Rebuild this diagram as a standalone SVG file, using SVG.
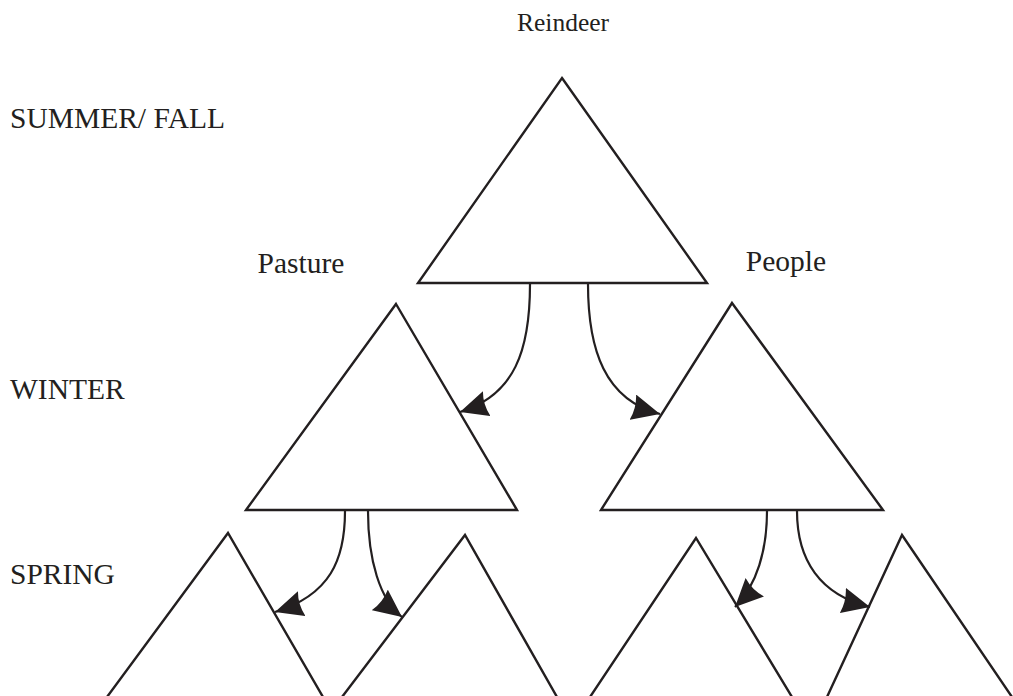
<svg xmlns="http://www.w3.org/2000/svg" width="1013" height="696" viewBox="0 0 1013 696">
<style>
.tri{fill:none;stroke:#231f20;stroke-width:2.4;stroke-linejoin:miter}
.con{fill:none;stroke:#231f20;stroke-width:2.2}
.lbl{font-family:"Liberation Serif","Times New Roman",serif;font-size:29.5px;fill:#231f20}
.top{font-size:25.5px}
</style>
<defs>
<marker id="ah" viewBox="0 0 28 26" refX="28" refY="13" markerWidth="28" markerHeight="26" markerUnits="userSpaceOnUse" orient="auto">
<path d="M0,0 L28,13 L0,26 Q4,13 0,0 Z" fill="#231f20"/>
</marker>
</defs>
<rect width="1013" height="696" fill="#fff"/>
<g id="labels">
<text class="lbl top" x="563" y="31" text-anchor="middle">Reindeer</text>
<text class="lbl" x="10" y="128">SUMMER/ FALL</text>
<text class="lbl" x="301" y="273" text-anchor="middle">Pasture</text>
<text class="lbl" x="786" y="271" text-anchor="middle">People</text>
<text class="lbl" x="10" y="399">WINTER</text>
<text class="lbl" x="10" y="584">SPRING</text>
</g>
<g id="reindeer"><polygon class="tri" points="562,78 707,283 418,283"/></g>
<g id="pasture"><polygon class="tri" points="396,304 517,510 246,510"/></g>
<g id="people"><polygon class="tri" points="732,303 883,510 601,510"/></g>
<g id="spring1"><polyline class="tri" points="107,697 228,533 323,697"/></g>
<g id="spring2"><polyline class="tri" points="342,697 465,535 557,697"/></g>
<g id="spring3"><polyline class="tri" points="590,697 696,538 792,697"/></g>
<g id="spring4"><polyline class="tri" points="827,697 902,535 1012,697"/></g>
<g id="connectors">
<path class="con" marker-end="url(#ah)" d="M530,284 C530,350 515,395 460,412"/>
<path class="con" marker-end="url(#ah)" d="M588,284 C588,350 605,400 660,414"/>
<path class="con" marker-end="url(#ah)" d="M345,511 C345,560 330,595 275,612"/>
<path class="con" marker-end="url(#ah)" d="M368,511 C368,560 380,600 402,617"/>
<path class="con" marker-end="url(#ah)" d="M767,511 C767,550 757,585 735,607"/>
<path class="con" marker-end="url(#ah)" d="M797,511 C797,560 820,595 870,607"/>
</g>
</svg>
